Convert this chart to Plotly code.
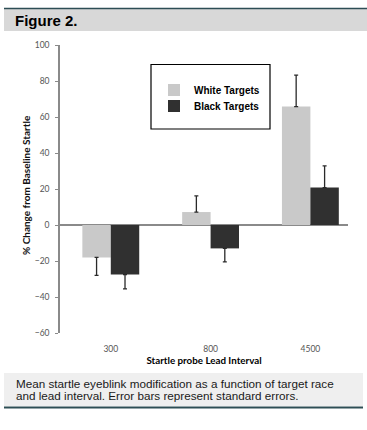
import plotly.graph_objects as go

# ---- data ----
categories = ["300", "800", "4500"]
white_vals = [-18.0, 7.2, 65.8]
white_se = [10.0, 9.0, 17.5]
black_vals = [-27.5, -13.0, 20.8]
black_se = [8.0, 7.5, 12.0]
series_names = ["White Targets", "Black Targets"]
y_ticks = [-60, -40, -20, 0, 20, 40, 60, 80, 100]

W, H = 367, 430
L, R, T, B = 60, 19, 45, 97
PW, PH = W - L - R, H - T - B


def px(x):
    return (x - L) / PW


def py(y):
    return (H - B - y) / PH


def err(vals, se):
    plus = [s if v >= 0 else 0 for v, s in zip(vals, se)]
    minus = [s if v < 0 else 0 for v, s in zip(vals, se)]
    return dict(type="data", symmetric=False, array=plus, arrayminus=minus,
                color="#2a2a2a", thickness=1.3, width=2)


fig = go.Figure()
fig.add_trace(go.Bar(x=categories, y=white_vals, name=series_names[0],
                     marker=dict(color="#c9c9c9", line=dict(width=0)),
                     error_y=err(white_vals, white_se), legend="legend"))
fig.add_trace(go.Bar(x=categories, y=black_vals, name=series_names[1],
                     marker=dict(color="#303030", line=dict(width=0)),
                     error_y=err(black_vals, black_se), legend="legend2"))

tick_font = dict(family="Lato", size=8.5, color="#555555")
leg_font = dict(family="Liberation Sans", size=10, color="black", weight="bold")

fig.update_layout(
    width=W, height=H,
    margin=dict(l=L, r=R, t=T, b=B, pad=0),
    paper_bgcolor="white", plot_bgcolor="white",
    barmode="group", bargap=0.43, bargroupgap=0,
    showlegend=True,
    legend=dict(x=px(154), y=py(90), xanchor="left", yanchor="middle",
                bgcolor="rgba(0,0,0,0)", borderwidth=0, font=leg_font, itemwidth=30),
    legend2=dict(x=px(154), y=py(106), xanchor="left", yanchor="middle",
                 bgcolor="rgba(0,0,0,0)", borderwidth=0, font=leg_font, itemwidth=30),
    xaxis=dict(type="category", range=[-0.509, 2.377], showline=False,
               showgrid=False, zeroline=False, ticks="", automargin=False,
               ticklabelstandoff=9, tickfont=tick_font,
               title=dict(text="<b>Startle probe Lead Interval</b>",
                          font=dict(family="Lato", size=9.8, color="black"),
                          standoff=4)),
    yaxis=dict(range=[-60, 100], tickvals=y_ticks, showgrid=False, automargin=False,
               showline=True, linecolor="#8a8a8a", linewidth=1.5,
               zeroline=True, zerolinecolor="#8a8a8a", zerolinewidth=1.5,
               ticks="outside", ticklen=3, tickcolor="#8a8a8a", tickwidth=1,
               ticklabelstandoff=4, tickfont=tick_font),
    font=dict(family="Liberation Sans"),
)

shapes = [
    # header band and top rule
    dict(type="rect", xref="paper", yref="paper", x0=px(4), x1=px(367),
         y0=py(31), y1=py(9), fillcolor="#d8d8d8", line=dict(width=0), layer="below"),
    dict(type="line", xref="paper", yref="paper", x0=px(4), x1=px(367),
         y0=py(8.5), y1=py(8.5), line=dict(color="#2d4d55", width=1.3)),
    # caption band and bottom rule
    dict(type="rect", xref="paper", yref="paper", x0=px(4), x1=px(363),
         y0=py(406), y1=py(373), fillcolor="#efefef", line=dict(width=0), layer="below"),
    dict(type="line", xref="paper", yref="paper", x0=px(4), x1=px(363),
         y0=py(407.5), y1=py(407.5), line=dict(color="#2e4e55", width=2.2)),
    # legend box
    dict(type="rect", xref="paper", yref="paper", x0=px(151), x1=px(270),
         y0=py(129), y1=py(64.5), fillcolor="white", line=dict(color="black", width=1.2),
         layer="below"),
]
fig.update_layout(shapes=shapes)

cap_font = dict(family="Liberation Sans", size=11.7, color="#1a1a1a")
annotations = [
    dict(text="<b>Figure 2.</b>", xref="paper", yref="paper", x=px(13), y=py(20.5),
         xanchor="left", yanchor="middle", showarrow=False,
         font=dict(family="Liberation Sans", size=15, color="black")),
    dict(text="<b>% Change from Baseline Startle</b>", xref="paper", yref="paper",
         x=px(26), y=py(185), xanchor="center", yanchor="middle", textangle=-90,
         showarrow=False, font=dict(family="Lato", size=10, color="#111")),
    dict(text="Mean startle eyeblink modification as a function of target race",
         xref="paper", yref="paper", x=px(14), y=py(383.5), xanchor="left",
         yanchor="middle", showarrow=False, font=cap_font),
    dict(text="and lead interval. Error bars represent standard errors.",
         xref="paper", yref="paper", x=px(14), y=py(395.5), xanchor="left",
         yanchor="middle", showarrow=False, font=cap_font),
]
fig.update_layout(annotations=annotations)

fig.write_html("out.html", config={"displayModeBar": False},
               post_script="document.body.style.margin='0px';")
